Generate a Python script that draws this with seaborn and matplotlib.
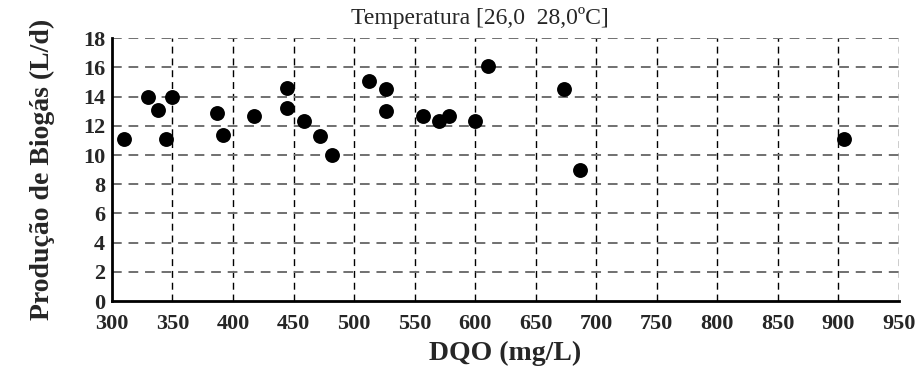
import numpy as np
import pandas as pd
import matplotlib.pyplot as plt
import seaborn as sns

# Valores
dqo = [310, 330, 338, 345, 350, 387, 392, 417, 445, 445, 459, 472, 482,
       512, 526, 526, 557, 570, 578, 600, 611, 673, 687, 905]
biogas = [11.1, 14.0, 13.1, 11.1, 14.0, 12.9, 11.4, 12.7, 14.6, 13.2, 12.3, 11.3, 10.0,
          15.1, 14.5, 13.0, 12.7, 12.3, 12.7, 12.3, 16.1, 14.5, 9.0, 11.1]

x_ticks = list(range(300, 951, 50))
y_ticks = list(range(0, 19, 2))

df = pd.DataFrame({'DQO': dqo, 'Biogas': biogas})

sns.set_style('white')
plt.rcParams['font.family'] = ['Liberation Serif', 'DejaVu Serif']

fig = plt.figure(figsize=(9.2, 3.74), dpi=100)
ax = fig.add_axes([0.1217, 0.195, 0.8553, 0.703])

# grade tracejada
for xv in x_ticks[1:]:
    ax.axvline(xv, color='black', linestyle=(0, (5, 3.5)), linewidth=1.0, zorder=1)
for yv in y_ticks[1:]:
    ax.axhline(yv, color='#707070', linestyle=(0, (5, 3.5)), linewidth=1.4, zorder=1)

sns.scatterplot(data=df, x='DQO', y='Biogas', ax=ax, color='black', s=115,
                edgecolor='black', linewidth=0, zorder=3)

ax.set_xlim(300, 950)
ax.set_ylim(0, 18)
ax.set_xticks(x_ticks)
ax.set_yticks(y_ticks)
ax.tick_params(direction='in', length=19, width=2, color='black', labelsize=16)
ax.tick_params(axis='x', pad=9)
ax.tick_params(axis='y', pad=5)
for lab in ax.get_xticklabels() + ax.get_yticklabels():
    lab.set_fontweight('bold')

for s in ['top', 'right']:
    ax.spines[s].set_visible(False)
for s in ['left', 'bottom']:
    ax.spines[s].set_linewidth(2)
    ax.spines[s].set_color('black')

ax.set_xlabel('DQO (mg/L)', fontsize=20, fontweight='bold', labelpad=5)
ax.set_ylabel('Produção de Biogás (L/d)', fontsize=20, fontweight='bold', labelpad=20)
fig.text(480 / 920, 1 - 18 / 374, 'Temperatura [26,0  28,0ºC]', ha='center',
         va='center', fontsize=17)

fig.savefig('out.png', dpi=100)
